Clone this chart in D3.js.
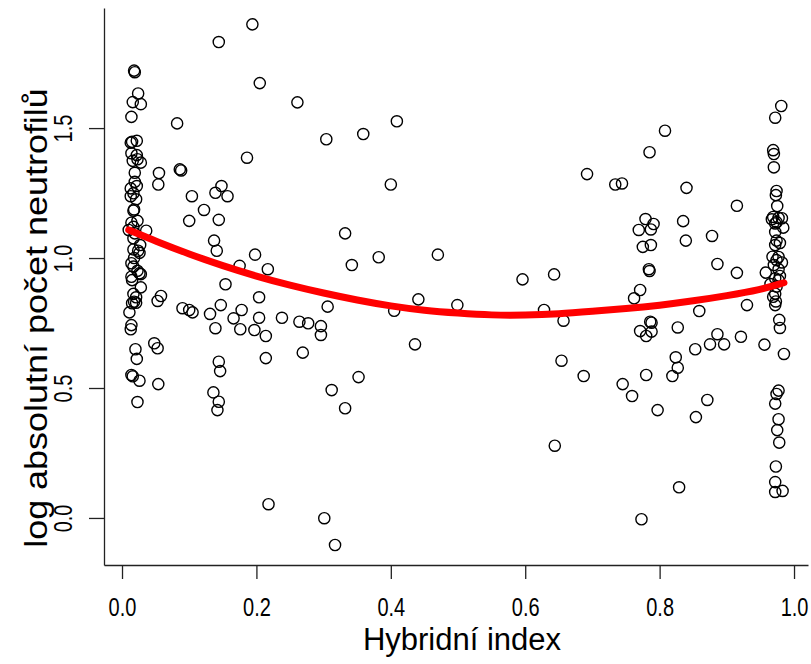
<!DOCTYPE html>
<html>
<head>
<meta charset="utf-8">
<script src="https://cdn.jsdelivr.net/npm/d3@7"></script>
<style>
  body { margin: 0; background: #fff; }
  svg { display: block; }
  .tick text { font-family: "Liberation Sans", Arial, sans-serif; }
  .title { font-family: "Liberation Sans", Arial, sans-serif; }
</style>
</head>
<body>
<div id="chart"></div>
<script>
// hybrid index (x) and log neutrophil count (y)
var hybridIndex = [
  // left column, near 0
  0.018, 0.019, 0.024, 0.016, 0.028, 0.014, 0.015, 0.022, 0.013, 0.014,
  0.022, 0.016, 0.023, 0.028, 0.019, 0.019, 0.022, 0.013, 0.017, 0.021,
  0.013, 0.018, 0.017, 0.014, 0.023, 0.017, 0.036, 0.010, 0.017, 0.019,
  0.027, 0.017, 0.026, 0.024, 0.018, 0.014, 0.017, 0.026, 0.023, 0.028,
  0.014, 0.028, 0.015, 0.017, 0.021, 0.018, 0.021, 0.015, 0.011, 0.014,
  0.013, 0.020, 0.022, 0.014, 0.016, 0.026, 0.023,
  // around 0.05
  0.058, 0.053, 0.048, 0.053, 0.054, 0.055, 0.054,
  // middle
  0.194, 0.144, 0.205, 0.082, 0.186, 0.086, 0.088, 0.148, 0.139, 0.157,
  0.104, 0.122, 0.100, 0.144, 0.137, 0.141, 0.198, 0.175, 0.217, 0.154,
  0.090, 0.100, 0.105, 0.131, 0.147, 0.178, 0.166, 0.204, 0.204, 0.238,
  0.139, 0.176, 0.197, 0.214, 0.214, 0.144, 0.146, 0.136, 0.144, 0.142,
  0.218, 0.261, 0.304, 0.359, 0.409, 0.400, 0.332, 0.342, 0.382, 0.470,
  0.306, 0.264, 0.277, 0.296, 0.296, 0.269, 0.405, 0.441, 0.499, 0.436,
  0.352, 0.312, 0.332, 0.301, 0.317,
  // right half
  0.808, 0.785, 0.692, 0.734, 0.744, 0.779, 0.791, 0.769, 0.787, 0.775,
  0.787, 0.784, 0.785, 0.596, 0.643, 0.771, 0.762, 0.628, 0.657, 0.786,
  0.788, 0.771, 0.780, 0.788, 0.654, 0.687, 0.745, 0.759, 0.780, 0.797,
  0.644, 0.773, 0.840, 0.915, 0.835, 0.839, 0.878, 0.886, 0.915, 0.930,
  0.859, 0.827, 0.886, 0.875, 0.896, 0.853, 0.921, 0.824, 0.827, 0.819,
  0.871, 0.854, 0.829, 0.956,
  // right column, near 1
  0.981, 0.972, 0.969, 0.970, 0.970, 0.974, 0.973, 0.975, 0.969, 0.977,
  0.982, 0.967, 0.974, 0.984, 0.972, 0.972, 0.974, 0.979, 0.972, 0.968,
  0.977, 0.982, 0.974, 0.970, 0.977, 0.958, 0.979, 0.972, 0.977, 0.965,
  0.974, 0.972, 0.969, 0.972, 0.973, 0.978, 0.979, 0.985, 0.977, 0.974,
  0.972, 0.977, 0.975, 0.978, 0.973, 0.972, 0.972, 0.983
];

var logNeutrophils = [
  1.721, 1.715, 1.633, 1.600, 1.592, 1.543, 1.447, 1.451, 1.444, 1.403,
  1.396, 1.374, 1.380, 1.367, 1.328, 1.293, 1.277, 1.268, 1.249, 1.226,
  1.238, 1.187, 1.182, 1.136, 1.143, 1.120, 1.105, 1.108, 1.076, 1.095,
  1.050, 1.033, 1.020, 1.028, 1.000, 0.980, 0.967, 0.941, 0.951, 0.938,
  0.928, 0.887, 0.915, 0.862, 0.849, 0.832, 0.828, 0.826, 0.791, 0.742,
  0.726, 0.649, 0.612, 0.550, 0.545, 0.528, 0.446,
  0.854, 0.835, 0.672, 0.653, 0.515, 1.327, 1.283,
  1.899, 1.831, 1.673, 1.518, 1.386, 1.341, 1.337, 1.277, 1.251, 1.238,
  1.238, 1.185, 1.143, 1.147, 1.067, 1.028, 1.013, 0.970, 0.957, 0.899,
  0.807, 0.800, 0.791, 0.785, 0.819, 0.800, 0.768, 0.849, 0.770, 0.770,
  0.730, 0.726, 0.723, 0.700, 0.615, 0.601, 0.565, 0.483, 0.447, 0.415,
  0.053, 1.599, 1.457, 1.477, 1.526, 1.283, 1.095, 0.973, 1.003, 1.013,
  0.813, 0.755, 0.749, 0.738, 0.704, 0.636, 0.797, 0.841, 0.819, 0.668,
  0.542, 0.492, 0.422, -0.001, -0.104,
  1.490, 1.407, 1.323, 1.283, 1.287, 1.150, 1.131, 1.108, 1.110, 1.043,
  1.050, 0.957, 0.950, 0.918, 0.937, 0.877, 0.845, 0.800, 0.759, 0.755,
  0.751, 0.719, 0.700, 0.717, 0.605, 0.546, 0.515, 0.469, 0.550, 0.415,
  0.278, -0.005, 1.270, 1.201, 1.142, 1.067, 1.085, 0.977, 0.943, 0.819,
  0.796, 0.733, 0.707, 0.668, 0.668, 0.649, 0.697, 0.618, 0.578, 0.546,
  0.454, 0.388, 0.118, 0.667,
  1.585, 1.540, 1.415, 1.400, 1.349, 1.258, 1.242, 1.200, 1.158, 1.154,
  1.153, 1.149, 1.138, 1.117, 1.133, 1.100, 1.067, 1.058, 1.050, 1.005,
  1.004, 0.983, 0.992, 0.973, 0.957, 0.944, 0.931, 0.922, 0.915, 0.900,
  0.890, 0.863, 0.851, 0.819, 0.833, 0.762, 0.731, 0.631, 0.490, 0.477,
  0.440, 0.380, 0.338, 0.290, 0.198, 0.138, 0.100, 0.104
];

// smooth fit (red line)
var fitX = [0.010, 0.05, 0.10, 0.15, 0.20, 0.25, 0.30, 0.35, 0.40, 0.45, 0.50,
            0.55, 0.60, 0.65, 0.70, 0.75, 0.80, 0.85, 0.90, 0.95, 0.985];
var fitY = [1.108, 1.065, 1.015, 0.970, 0.930, 0.895, 0.865, 0.838, 0.815, 0.798, 0.788,
            0.780, 0.780, 0.785, 0.795, 0.805, 0.818, 0.835, 0.855, 0.878, 0.905];

var xTicks = [0, 0.2, 0.4, 0.6, 0.8, 1.0];
var yTicks = [0, 0.5, 1.0, 1.5];

(function() {

  var svgWidth = 811;
  var svgHeight = 664;

  // plot region in pixels
  var plotLeft = 104, plotRight = 808, plotTop = 8, plotBottom = 565;

  var svg = d3.select('#chart').append('svg')
    .attr('width', svgWidth)
    .attr('height', svgHeight);

  var xScale = d3.scaleLinear()
    .domain([-0.0268, 1.0208])
    .range([plotLeft, plotRight]);

  var yScale = d3.scaleLinear()
    .domain([-0.181, 1.962])
    .range([plotBottom, plotTop]);

  var points = hybridIndex.map(function(d, i) {
    return { x: d, y: logNeutrophils[i] };
  });

  svg.append('g')
    .selectAll('circle')
    .data(points)
    .enter()
    .append('circle')
    .attr('cx', function(d) { return xScale(d.x); })
    .attr('cy', function(d) { return yScale(d.y); })
    .attr('r', 5.6)
    .attr('fill', 'none')
    .attr('stroke', '#000')
    .attr('stroke-width', 1.4);

  var fit = fitX.map(function(d, i) { return [d, fitY[i]]; });

  var line = d3.line()
    .x(function(d) { return xScale(d[0]); })
    .y(function(d) { return yScale(d[1]); })
    .curve(d3.curveBasis);

  svg.append('path')
    .datum(fit)
    .attr('d', line)
    .attr('fill', 'none')
    .attr('stroke', '#ff0000')
    .attr('stroke-width', 7)
    .attr('stroke-linecap', 'round');

  // axes (L-shaped box like R's bty = "l")
  var xAxis = svg.append('g')
    .attr('transform', 'translate(0,' + plotBottom + ')')
    .call(d3.axisBottom(xScale)
      .tickValues(xTicks)
      .tickSize(14)
      .tickSizeOuter(0)
      .tickFormat(d3.format('.1f')));

  var yAxis = svg.append('g')
    .attr('transform', 'translate(' + plotLeft + ',0)')
    .call(d3.axisLeft(yScale)
      .tickValues(yTicks)
      .tickSize(15)
      .tickSizeOuter(0)
      .tickFormat(d3.format('.1f')));

  svg.selectAll('.domain, .tick line')
    .attr('stroke', '#222')
    .attr('stroke-width', 1.3);

  // tick labels are condensed in the original
  xAxis.selectAll('.tick text')
    .attr('y', 0)
    .attr('dy', null)
    .attr('transform', 'translate(0,51) scale(0.8,1)')
    .attr('fill', '#000')
    .style('font-size', '25px');

  yAxis.selectAll('.tick text')
    .attr('x', 0)
    .attr('y', 0)
    .attr('dy', null)
    .attr('transform', 'translate(-32,0) rotate(-90) scale(0.8,1)')
    .attr('text-anchor', 'middle')
    .attr('fill', '#000')
    .style('font-size', '25px');

  svg.append('text')
    .attr('class', 'title')
    .attr('x', 462)
    .attr('y', 650)
    .attr('text-anchor', 'middle')
    .style('font-size', '31px')
    .text('Hybridní index');

  // the y title is stretched along its length in the original
  svg.append('text')
    .attr('class', 'title')
    .attr('transform', 'translate(47,318) rotate(-90) scale(1.16,1)')
    .attr('text-anchor', 'middle')
    .style('font-size', '31px')
    .text('log absolutní počet neutrofilů');

})();
</script>
</body>
</html>
